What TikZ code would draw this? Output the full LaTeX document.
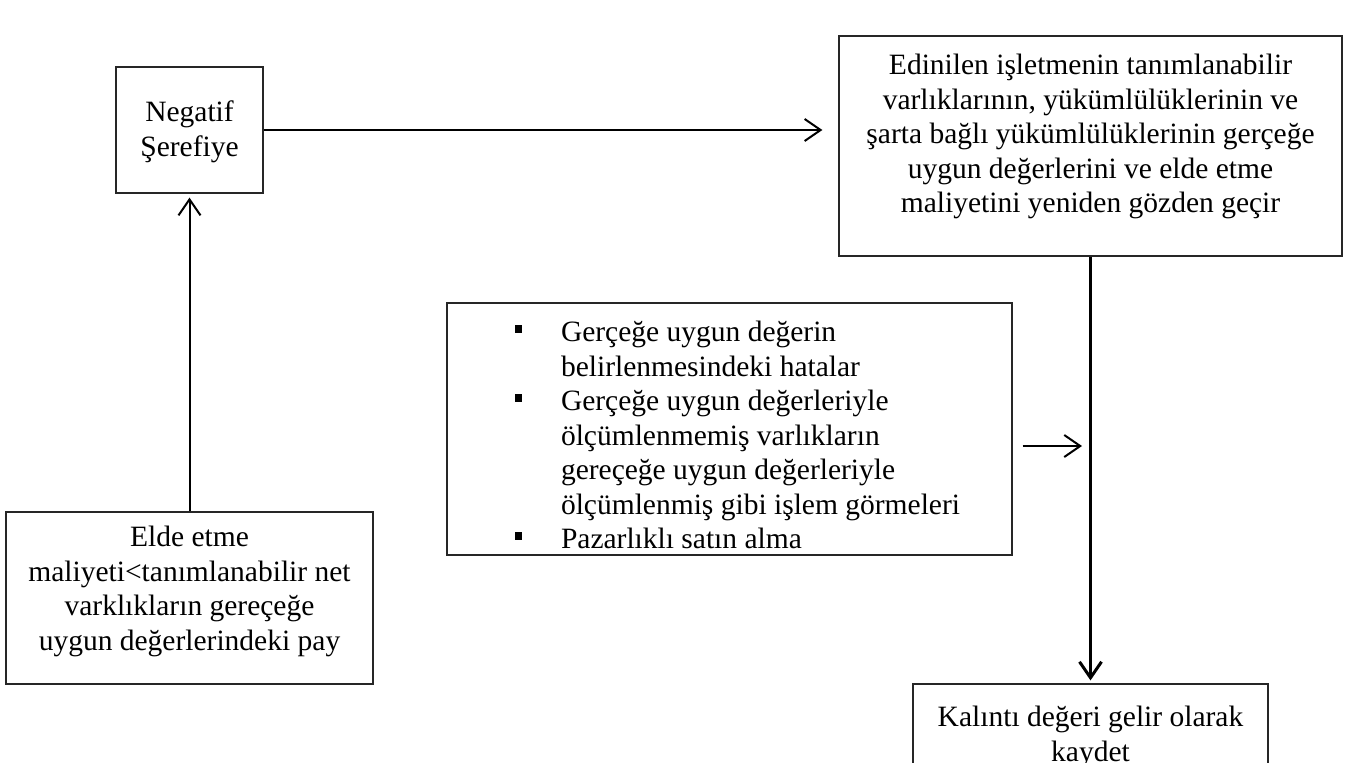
\documentclass[tikz,border=0pt]{standalone}
\usepackage{xcolor}
\usepackage{fontspec}
\setmainfont{Liberation Serif}
\usepackage{tikz}
\usetikzlibrary{positioning}
\usetikzlibrary{arrows.meta}
\tikzset{edge/.style = {->,> = {Straight Barb[length=8pt,width=11pt]}}}
\newcommand{\boxtext}[4]{\parbox[c][#2][t]{#1}{\centering\vspace*{#3}\strut#4}}
\newcommand{\kare}{\rule[4.5pt]{3.5pt}{4pt}}

\begin{document}
\begin{tikzpicture}[x=0.5pt,y=-0.5pt,line width=1pt,main node/.style={draw=black!85,line width=0.6pt,inner sep=0pt,font=\fontsize{14.75}{17.25}\selectfont}]
            \useasboundingbox (0,0) rectangle (1358,762);
            \clip (0,0) rectangle (1358,762);

            \node[main node] (1) at (189.5,130) {\boxtext{73.5pt}{63pt}{15.4pt}{Negatif\\ Şerefiye}};
            \node[main node] (2) at (1090.5,146) {\boxtext{251.5pt}{110pt}{7.4pt}{Edinilen işletmenin tanımlanabilir\\ varlıklarının, yükümlülüklerinin ve\\ şarta bağlı yükümlülüklerinin gerçeğe\\ uygun değerlerini ve elde etme\\ maliyetini yeniden gözden geçir}};
            \node[main node] (3) at (729.5,429) {\parbox[c][126pt][t]{282.5pt}{\vspace*{7.4pt}\hspace*{34pt}\begin{tabular}[t]{@{}p{23pt}@{}l@{}}
                \kare & Gerçeğe uygun değerin\\
                      & belirlenmesindeki hatalar\\
                \kare & Gerçeğe uygun değerleriyle\\
                      & ölçümlenmemiş varlıkların\\
                      & gereçeğe uygun değerleriyle\\
                      & ölçümlenmiş gibi işlem görmeleri\\
                \kare & Pazarlıklı satın alma
            \end{tabular}}};
            \node[main node] (4) at (189.5,598) {\boxtext{183.5pt}{86pt}{5.4pt}{Elde etme\\ maliyeti<tanımlanabilir net\\ varklıkların gereçeğe\\ uygun değerlerindeki pay}};
            \node[main node] (5) at (1090.5,744) {\boxtext{177.5pt}{60pt}{9.4pt}{Kalıntı değeri gelir olarak\\ kaydet}};
            \coordinate (6) at ([xshift=5pt,yshift=-8.5pt]3.east);

            \draw[edge,shorten >=8pt] (1) -- (1 -| 2.west);
            \draw[edge,shorten >=2pt] (4.north) -- (1.south);
            \draw[edge,line width=1.5pt,shorten >=1.5pt] (2.south) -- (5.north);
            \draw[edge,shorten >=4.25pt] (6) -- (6 -| 2.south);
        \end{tikzpicture}
\end{document}
